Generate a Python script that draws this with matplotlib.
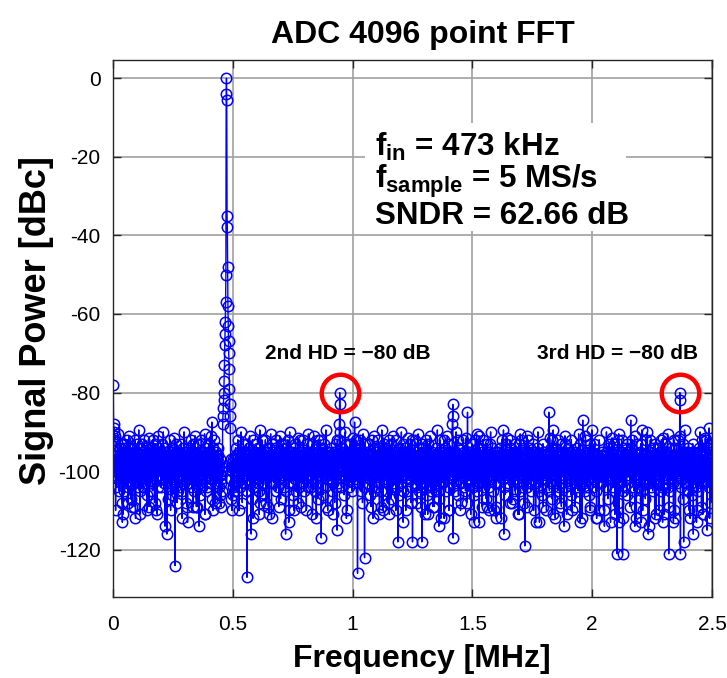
import numpy as np
import matplotlib
matplotlib.use("Agg")
import matplotlib.pyplot as plt

plt.rcParams['font.family'] = ['Liberation Sans', 'DejaVu Sans']
plt.rcParams['axes.unicode_minus'] = False
plt.rcParams['mathtext.fontset'] = 'custom'
plt.rcParams['mathtext.rm'] = 'Liberation Sans'
plt.rcParams['mathtext.bf'] = 'Liberation Sans:bold'
plt.rcParams['mathtext.it'] = 'Liberation Sans:italic'

# noise floor, dB below carrier (2048 bins over 0..2.5 MHz)
noise_below = """
97 100 94 99 103 96 98 92 101 95 99 104 97 100 96 98 90.5 102 95 99 97 105 100 94 98 96 103 101 93 102 108 95
99 95 102 97 93 100 98 105 96 99 94 101 97 103 98 100 95 92 99 96 104 97 91 100 98 103 96 94 101 107 97 99
96 101 98 94 100 97 103 95 99 109 96 98 92 100 97 102 99 95 101 93 98 104 96 100 89.5 97 99 103 95 98 105 102
100 97 93 99 96 104 98 101 95 97 100 92 103 99 96 98 94 102 97 106 95 100 99 96 101 98 91.5 103 97 105 94 99
98 103 96 100 94 99 97 105 92 101 98 95 100 97 103 96 99 93 102 98 110 95 97 100 96 104 99 91 101 97 94 98
95 99 101 97 104 96 100 93 98 102 97 99 90 103 96 100 98 94 105 97 99 95 101 96 92 100 98 107 97 99 103 96
101 96 99 92 98 100 97 103 95 99 106 96 101 98 94 100 97 102 91.5 99 96 104 98 93 100 97 95 103 99 96 105 98
97 100 95 104 99 96 101 98 93 100 97 105 96 99 102 94 98 100 97 90 103 96 99 95 101 98 108 97 92 100 96 103
99 94 102 97 100 96 98 103 95 101 97 92 99 104 96 100 98 93 97 101 95 99 105 96 100 91 98 103 97 109 99 96
96 101 97 99 93 100 98 95 103 97 106 99 96 100 92 98 101 97 104 95 99 96 102 100 98 90.5 97 103 94 99 105 96
100 98 104 96 99 95 101 97 93 100 98 103 96 99 91 97 102 100 95 98 107 96 99 94 101 97 100 92 98 105 103 96
98 95 99 101 97 103 96 100 94 98 92 99 105 97 100 96 102 98 95 101 97 89.5 99 104 96 100 98 93 103 97 110 99
95 100 97 102 99 96 104 98 101 93 97 100 96 99 106 95 98 103 97 100 91.5 99 96 101 98 94 100 97 92 103 99 105
101 97 99 94 100 96 98 103 97 105 99 92 100 96 98 101 95 99 97 104 96 100 90 98 102 97 108 99 95 101 93 97
97 103 95 99 98 101 96 100 93 97 99 105 96 98 102 100 94 97 99 91 103 96 100 98 95 101 97 107 99 92 104 98
99 96 101 97 104 98 95 100 97 99 93 102 96 100 98 94 103 97 105 99 96 101 89.5 98 100 95 97 99 103 92 96 106
96 100 98 103 95 99 97 101 96 92 100 98 104 97 99 95 101 96 98 109 97 100 94 99 103 96 98 90.5 101 97 105 93
100 97 99 95 101 98 96 103 99 97 94 100 98 105 96 92 99 101 97 100 95 104 98 96 102 99 91 97 100 107 93 98
98 101 96 100 97 93 99 104 95 98 102 97 100 96 99 105 94 98 97 101 96 100 92 99 103 97 110 98 90 101 96 99
97 99 103 96 100 95 98 101 97 106 99 94 100 96 102 98 93 97 105 99 96 100 98 91.5 101 97 99 95 104 98 92 100
101 96 98 99 94 100 97 103 96 99 101 92 98 105 97 100 95 99 96 102 98 108 97 93 100 96 104 99 90.5 98 101 95
96 99 97 101 98 104 95 100 97 93 99 96 103 98 100 97 91 99 102 96 105 98 100 94 97 101 99 95 107 98 92 100
99 97 100 96 92 101 98 95 103 99 97 100 94 98 106 96 99 101 97 93 100 98 104 96 89.5 99 102 97 100 95 105 98
98 100 95 99 97 102 96 101 98 94 100 97 105 99 96 91 103 98 100 97 95 99 108 96 101 93 98 104 97 100 96 92
100 96 99 103 97 95 101 98 92 100 96 99 97 104 94 98 101 97 100 95 99 96 106 98 102 90 97 100 93 99 105 98
97 101 98 95 100 96 99 104 97 102 93 98 100 96 99 101 97 105 95 98 91.5 100 97 103 96 99 109 98 94 101 92 97
99 95 102 98 97 100 94 99 96 103 98 101 97 92 100 96 105 99 97 101 95 98 100 90.5 99 104 96 98 107 97 93 100
96 100 97 99 101 95 98 103 97 100 96 93 99 102 98 106 97 100 95 99 104 96 98 92 101 97 99 91 100 98 105 94
101 98 96 100 97 104 99 95 98 101 97 92 100 96 103 99 98 94 97 100 96 105 99 89.5 101 98 97 110 95 99 93 102
98 97 100 94 99 96 101 98 105 97 100 95 99 103 96 98 92 100 97 101 99 96 107 98 93 100 97 104 91 99 102 96
97 103 99 96 100 98 95 101 97 92 99 104 96 100 98 97 101 94 99 106 96 98 100 95 103 97 90 99 101 98 93 105
100 96 98 101 97 99 94 100 96 103 98 97 105 99 95 100 98 91.5 102 97 99 96 101 93 98 100 108 97 104 96 99 92
95 99 101 97 100 96 98 92 103 99 97 100 95 98 104 96 101 99 97 90.5 100 98 105 96 99 102 97 94 100 109 98 93
99 101 97 100 94 98 96 103 99 97 101 95 98 100 92 97 106 99 96 101 98 93 100 97 104 95 99 98 91 102 96 105
97 100 98 95 101 99 96 104 97 100 93 98 99 102 96 100 97 105 94 99 98 89.5 101 96 103 97 100 107 95 98 92 99
101 96 99 97 98 103 95 100 97 99 96 92 101 98 100 94 97 105 99 96 98 102 100 91 97 104 99 95 110 98 93 100
98 99 95 101 97 100 96 98 104 93 99 97 100 96 101 98 105 95 99 97 103 90 100 98 96 99 92 102 97 106 94 100
96 101 98 99 94 97 100 103 96 98 101 97 92 100 99 95 104 97 98 100 96 105 99 91.5 97 101 98 108 93 99 102 95
100 97 99 96 102 98 95 100 97 101 99 93 98 96 104 100 97 99 95 106 98 101 96 92 99 97 103 90.5 100 98 105 94
99 98 96 101 91 100 94 99 103 96 98 97 100 95 105 99 92 101 97 98 96 104 100 97 99 97 102 96 107 98 93 100
97 100 101 95 99 98 96 104 97 100 93 90 96 98 102 97 101 94 100 99 105 96 98 99 97 103 100 99 95 109 92 98
101 99 96 98 100 97 103 95 99 96 101 98 94 97 100 105 99 92 98 96 102 97 100 89.5 99 104 96 98 106 97 93 100
98 96 91.5 97 99 101 95 98 103 97 100 96 99 92 104 98 97 101 94 100 96 99 107 98 100 97 102 100 95 99 105 93
96 100 98 102 97 99 95 101 96 98 100 93 99 97 105 96 90.5 98 92 100 97 104 99 95 98 103 97 101 100 108 94 99
100 97 99 96 101 98 104 91 100 97 99 92 98 103 96 100 97 94 99 101 98 105 96 95 97 100 102 99 93 98 110 96
99 101 97 98 95 100 96 103 99 97 101 94 98 90 96 105 97 99 92 98 104 100 96 100 99 97 102 98 106 95 93 100
97 99 100 96 98 102 95 99 97 101 93 100 98 96 104 99 97 100 95 98 105 91.5 99 96 103 97 100 94 98 107 92 101
101 89.5 96 100 97 99 94 98 101 96 103 97 100 95 99 98 92 105 97 100 96 99 104 98 98 101 97 93 100 109 99 96
98 100 97 95 99 101 96 98 104 91 100 93 99 96 98 102 100 97 105 94 99 96 101 97 98 97 103 100 95 99 106 92
96 99 101 98 97 100 95 103 96 99 98 92 100 97 101 96 99 104 98 94 100 97 105 99 90.5 96 102 98 108 97 93 100
100 97 98 96 101 99 94 100 97 103 98 96 99 105 97 91 92 98 101 96 99 104 97 100 100 98 95 102 99 106 93 97
99 96 100 98 95 89.5 97 99 104 96 98 100 97 93 99 102 96 101 98 105 97 100 94 99 101 98 103 96 100 110 92 97
97 101 99 96 100 98 103 97 95 99 101 96 98 92 100 97 105 99 96 98 104 100 97 90 99 95 102 98 107 94 101 93
101 98 96 100 97 99 95 98 102 97 91.5 94 99 96 104 98 101 97 93 100 96 105 99 100 98 97 103 100 95 108 92 99
98 90.5 97 99 96 103 98 101 95 97 100 92 99 96 98 105 97 101 94 100 99 96 104 98 100 97 102 99 106 95 93 100
96 99 101 97 100 95 98 103 99 96 101 97 94 100 98 92 104 97 99 96 101 105 98 91 100 97 102 99 109 95 93 98
100 97 98 101 96 99 104 97 100 95 98 101 93 99 96 100 89.5 105 98 94 99 102 96 97 100 98 103 97 107 99 92 96
99 101 96 90 97 100 95 99 103 98 96 100 97 92 101 99 98 104 96 100 97 105 94 98 98 99 102 96 106 97 93 101
97 100 99 96 101 98 94 100 97 103 99 96 98 101 95 99 97 105 100 92 98 96 104 99 91.5 97 102 100 108 95 93 98
101 96 98 100 97 99 95 101 90.5 104 96 100 97 93 99 98 105 96 101 97 100 94 99 102 98 98 97 103 95 110 92 99
98 99 97 101 96 100 94 98 103 97 100 96 99 92 101 98 97 105 99 91 100 96 104 98 95 97 102 99 107 95 93 100
96 100 89.5 97 101 99 95 103 97 100 96 98 101 94 99 105 97 100 92 98 96 104 99 98 100 97 102 98 106 95 93 99
100 97 99 98 95 101 96 100 104 97 99 93 98 101 96 100 97 105 99 94 98 102 96 90 99 97 103 100 109 95 92 98
99 96 101 97 100 98 103 95 99 91.5 101 96 98 92 100 105 97 99 94 101 96 104 98 97 97 100 102 99 108 95 93 96
"""

# DC bins, carrier with its leakage skirt, and the quieter bins beside it
carrier_bins = [0, 1, 2, 3, 4, 5, 6,
                362, 364, 366, 367, 369, 370, 372, 373,
                375, 376, 377, 378, 379, 380, 381, 382, 383, 384, 385, 386, 387, 388, 389,
                390, 391, 392, 393, 394, 395, 396, 397, 398, 399, 400, 401,
                403, 404, 406, 407, 409, 410, 412, 413]
carrier_db = [-150, -78, -88, -90, -89, -92, -91,
              -104, -108, -101, -106, -103, -109, -100, -105,
              -88, -86, -84, -82, -80, -77, -73, -68, -65, -62, -57, -50, -4, 0, -5.5,
              -35, -38, -48, -58, -63, -67, -70, -74, -79, -83, -86, -89,
              -102, -107, -100, -110, -104, -99, -106, -103]

# harmonics
hd2_bins = [773, 774, 775, 776, 777]
hd2_db = [-92, -88, -80, -83, -90]
hd3_bins = [1937, 1938, 1939, 1940, 1941]
hd3_db = [-91, -80, -82, -121, -97]

# other spurs sticking out of the floor
spur_bins = [338, 826, 1160, 1161, 1162, 1163, 1212, 1490, 1606, 1770, 2038]
spur_db = [-87.5, -87.5, -88, -86, -83, -117, -85, -85, -87, -87, -89]

# nulls below the floor
dip_bins = [9, 32, 34, 51, 66, 77, 92, 116, 123, 142, 151, 178, 184, 197, 212, 219, 236, 252,
            255, 274, 287, 294, 314, 315, 342, 349, 431, 458, 472, 479, 500, 503, 524, 533,
            542, 567, 590, 601, 618, 633, 644, 661, 682, 695, 712, 727, 734, 751, 766, 798,
            801, 836, 853, 860, 882, 889, 911, 918, 940, 945, 967, 974, 992, 1001, 1024,
            1039, 1056, 1067, 1076, 1093, 1098, 1114, 1121, 1132, 1149, 1188, 1189, 1223,
            1234, 1251, 1262, 1279, 1284, 1301, 1310, 1327, 1336, 1358, 1363, 1384, 1389,
            1408, 1417, 1445, 1458, 1471, 1482, 1503, 1512, 1529, 1542, 1551, 1570, 1579,
            1596, 1603, 1632, 1631, 1653, 1654, 1677, 1680, 1701, 1716, 1723, 1730, 1745,
            1742, 1767, 1784, 1789, 1806, 1811, 1830, 1833, 1852, 1857, 1866, 1879, 1884,
            1900, 1901, 1916, 1923, 1951, 1970, 1973, 1984, 1995, 1998, 2016, 2017, 2031, 2040]
dip_db = [-110, -113, -111, -108, -109, -112, -111, -110, -109, -108, -111, -114, -116, -110,
          -124, -108, -112, -109, -113, -109, -109, -114, -111, -111, -110, -108,
          -110, -127, -116, -112, -111, -108, -108, -111, -112, -109, -116, -113, -110, -108,
          -109, -110, -111, -112, -117, -109, -110, -111, -115, -112, -110, -126, -108, -122,
          -109, -112, -111, -109, -108, -111, -110, -118, -113, -110, -118, -108, -118, -111,
          -111, -109, -109, -114, -112, -112, -110, -110, -108, -111, -113, -113, -109, -109,
          -110, -110, -112, -112, -116, -108, -108, -111, -111, -119, -109, -113, -113, -109,
          -110, -111, -112, -108, -114, -111, -110, -109, -113, -112, -109, -110, -112, -112,
          -110, -114, -113, -111, -121, -113, -112, -121, -109, -114, -112, -113, -110, -116,
          -114, -112, -111, -110, -113, -111, -121, -109, -113, -112, -118, -110, -112, -116,
          -113, -110, -111, -111, -115, -112, -110, -112, -113, -110]

power = -np.array(noise_below.split(), dtype=float)
n_bins = len(power)
freq = np.arange(n_bins) * 2.5 / n_bins

for b, v in zip(carrier_bins + hd2_bins + hd3_bins + spur_bins + dip_bins,
                carrier_db + hd2_db + hd3_db + spur_db + dip_db):
    if b < n_bins:
        power[b] = v

fig = plt.figure(figsize=(7.27, 6.78), dpi=100)
ax = fig.add_axes([0.1554, 0.1195, 0.8240, 0.7920])

ax.plot(freq, power, '-o', color='b', lw=1.0, ms=7.5, mew=1.1, mfc='none', zorder=2)

# red rings round the two harmonics
hd2_peak = hd2_bins[int(np.argmax(hd2_db))]
hd3_peak = hd3_bins[int(np.argmax(hd3_db))]
for b in (hd2_peak, hd3_peak):
    ax.plot(freq[b], power[b], 'o', mfc='none', mec='red', ms=27, mew=3.2, zorder=5)

ax.text(freq[hd2_peak] + 0.035, -70, "2nd HD = \u221280 dB", ha='center', va='center',
        fontsize=15, fontweight='bold')
ax.text(freq[hd3_peak] - 0.26, -70, "3rd HD = \u221280 dB", ha='center', va='center',
        fontsize=15, fontweight='bold')

# info box
box = plt.Rectangle((1.05, -38.8), 1.09, 27.4, facecolor='white', edgecolor='none', zorder=3)
ax.add_patch(box)
info = [r"$\mathbf{f}_{\mathbf{in}}$ = 473 kHz",
        r"$\mathbf{f}_{\mathbf{sample}}$ = 5 MS/s",
        "SNDR = 62.66 dB"]
for k, s in enumerate(info):
    ax.text(1.095, -17.6 - 8.7 * k, s, ha='left', va='center', fontsize=22.6,
            fontweight='bold', zorder=4)

ax.set_xlim(0, 2.5)
ax.set_ylim(-132, 4.6)
ax.set_xticks([0, 0.5, 1, 1.5, 2, 2.5])
ax.set_xticklabels(['0', '0.5', '1', '1.5', '2', '2.5'])
ax.set_yticks([-120, -100, -80, -60, -40, -20, 0])
ax.grid(True, color='#a0a0a0', lw=1.2, zorder=0)
ax.set_axisbelow(True)
ax.tick_params(direction='in', top=True, right=True, length=6, width=1,
               labelsize=15, colors='#262626', labelcolor='black')
ax.tick_params(axis='x', pad=13)
ax.tick_params(axis='y', pad=9)
for sp in ax.spines.values():
    sp.set_color('#262626')
    sp.set_linewidth(1.0)

ax.set_title("ADC 4096 point FFT", fontsize=23, fontweight='bold', pad=12, x=0.517)
ax.set_xlabel("Frequency [MHz]", fontsize=23, fontweight='bold')
ax.set_ylabel("Signal Power [dBc]", fontsize=26, fontweight='bold')
ax.xaxis.set_label_coords(0.515, -0.088)
ax.yaxis.set_label_coords(-0.098, 0.514)

fig.savefig("out.png", dpi=100)
